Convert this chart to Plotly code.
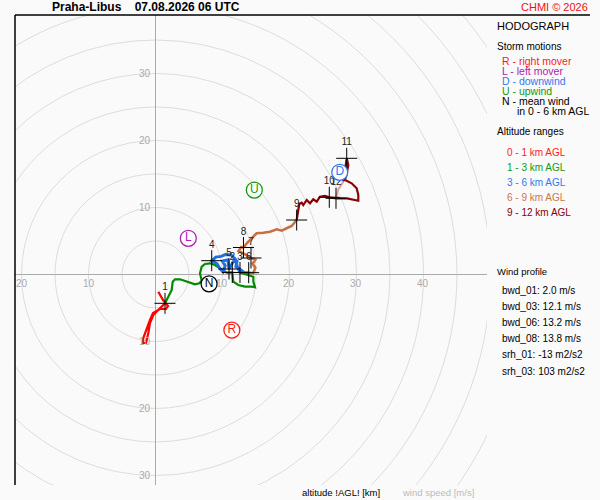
import plotly.graph_objects as go

# hodograph segments (u, v wind components in m/s)
red_u = [0.42, 1.12, 1.87, 1.57, 0.67, -0.37, -0.82, -1.31, -1.82, -1.91, -1.42, -1.07, -0.82, -0.33, 0.42, 1.12, 1.42]
red_v = [-2.57, -3.81, -4.70, -5.15, -5.15, -5.75, -6.79, -8.28, -9.48, -10.22, -10.22, -8.73, -7.24, -6.04, -5.30, -4.55, -4.30]

green_u = [1.42, 1.91, 2.42, 2.57, 2.91, 3.66, 4.40, 5.15, 5.90, 6.54, 6.90, 6.64, 6.90, 7.39, 8.13, 8.88, 9.63,
           10.63, 11.46, 11.61, 12.36, 13.36, 14.36, 14.85, 14.60, 14.60, 12.61]
green_v = [-4.30, -3.31, -2.31, -1.07, -0.72, -0.72, -0.93, -1.22, -1.46, -1.31, -0.93, 0.18, 1.16, 1.57, 1.67, 1.42, 0.93,
           0.27, 0.30, -1.07, -1.57, -1.82, -1.82, -1.91, -1.07, -0.33, 0.30]

blue_u = [12.61, 12.2, 11.9, 11.3, 10.5, 9.8, 9.0, 8.39, 9.2, 9.6, 10.1, 10.4, 10.0, 10.8, 10.97, 11.6, 12.2, 12.0,
          12.6, 13.2, 13.91]
blue_v = [0.30, 1.2, 2.3, 2.9, 3.0, 2.7, 2.6, 2.06, 1.6, 0.9, 0.4, 1.3, 2.0, 2.2, 0.82, 1.9, 2.1, 1.2, 0.8, 0.3, 0.27]

orange_u = [13.91, 14.6, 14.9, 14.5, 14.9, 14.25, 13.6, 13.0, 12.4, 12.8, 13.13, 13.66, 14.36, 15.10, 16.09, 17.09,
            18.09, 18.84, 19.58, 20.33, 21.07]
orange_v = [0.27, 0.2, 1.0, 1.6, 2.2, 2.46, 2.9, 3.2, 3.5, 4.1, 4.03, 4.70, 5.40, 6.15, 6.24, 6.39, 6.75, 6.54, 6.90,
            7.24, 8.13]

darkred_u = [21.07, 21.46, 21.82, 22.06, 22.57, 23.06, 23.55, 24.06, 24.55, 25.30, 25.94, 27.09, 28.58, 29.52, 30.27,
             30.27, 30.03, 29.28, 28.28, 28.54, 28.78, 28.54, 28.28, 28.03]
darkred_v = [8.13, 10.52, 10.72, 10.37, 11.12, 10.63, 11.22, 10.87, 11.61, 11.72, 11.52, 11.37, 11.37, 11.12, 11.01,
             11.87, 12.87, 13.61, 14.10, 15.10, 16.34, 17.34, 15.60, 13.85]
# last leg 11 -> 12 drawn lighter
pink_u = [28.03, 27.24, 26.94]
pink_v = [13.85, 12.61, 11.37]

# altitude markers
hgt_km = [1, 2, 3, 4, 5, 6, 7, 8, 9, 10, 11, 12]
hgt_u = [1.42, 11.46, 12.61, 8.39, 10.97, 13.91, 14.25, 13.13, 21.07, 25.94, 28.54, 26.94]
hgt_v = [-4.30, 0.30, 0.30, 2.06, 0.82, 0.27, 2.46, 4.03, 8.13, 11.52, 17.34, 11.37]

# storm motions
storm_labels = ["R", "L", "D", "U", "N"]
storm_u = [11.4, 4.9, 27.5, 14.75, 8.0]
storm_v = [-8.3, 5.4, 15.25, 12.6, -1.4]
storm_colors = ["#ff1a1a", "#b020b0", "#3377ee", "#119911", "#000000"]

ring_speeds = [5, 10, 15, 20, 25, 30, 35, 40, 45, 50, 55, 60, 65]
x_ticks = [-20, -10, 10, 20, 30, 40]
y_ticks = [-30, -20, -10, 10, 20, 30]

legend_motion = ["R - right mover", "L - left mover", "D - downwind", "U - upwind", "N - mean wind"]
legend_ranges = ["0 - 1 km AGL", "1 - 3 km AGL", "3 - 6 km AGL", "6 - 9 km AGL", "9 - 12 km AGL"]
range_colors = ["#ff1a1a", "#119911", "#3377ee", "#cc7744", "#880000"]
profile_lines = ["bwd_01: 2.0 m/s", "bwd_03: 12.1 m/s", "bwd_06: 13.2 m/s", "bwd_08: 13.8 m/s",
                 "srh_01: -13 m2/s2", "srh_03: 103 m2/s2"]

FONT = "Liberation Sans, Arial, sans-serif"
W, H = 600, 500
L, R, T, B = 15, 113, 15, 15


def py(pix):
    # pixel row from top -> paper y
    return (H - B - pix) / (H - T - B)


def px(pix):
    return (pix - L) / (W - L - R)


fig = go.Figure()

seg_colors = ["#ff0000", "#008a00", "#1f6fe0", "#c87040", "#8b0000"]
seg_widths = [2.2, 2.2, 3, 2.6, 2.2]
for (u, v), c, w in zip([(red_u, red_v), (green_u, green_v), (blue_u, blue_v), (orange_u, orange_v),
                         (darkred_u, darkred_v)], seg_colors, seg_widths):
    fig.add_trace(go.Scatter(x=u, y=v, mode="lines", line=dict(color=c, width=w), hoverinfo="skip"))
fig.add_trace(go.Scatter(x=pink_u, y=pink_v, mode="lines", line=dict(color="#e0a8a8", width=2.2), hoverinfo="skip"))

fig.add_trace(go.Scatter(
    x=hgt_u, y=hgt_v, mode="markers+text", text=[str(h) for h in hgt_km], textposition="top center",
    textfont=dict(family=FONT, size=10, color="#222"),
    marker=dict(symbol="cross-thin", size=15, line=dict(color="black", width=1)),
    hoverinfo="skip"))

fig.add_trace(go.Scatter(
    x=storm_u, y=storm_v, mode="markers+text", text=storm_labels, textposition="middle center",
    textfont=dict(family=FONT, size=12, color=storm_colors),
    marker=dict(symbol="circle", size=16, color="white", line=dict(color=storm_colors, width=1.3)),
    hoverinfo="skip"))

shapes = []
for r in ring_speeds:
    shapes.append(dict(type="circle", xref="x", yref="y", x0=-r, x1=r, y0=-r, y1=r,
                       line=dict(color="#dddddd", width=1), layer="below"))
# frame lines
shapes.append(dict(type="line", xref="paper", yref="paper", x0=0, x1=px(590), y0=1, y1=1,
                   line=dict(color="black", width=1.5)))
shapes.append(dict(type="line", xref="paper", yref="paper", x0=0, x1=0, y0=0, y1=1,
                   line=dict(color="black", width=1.5)))

ann = []
for t in x_ticks:
    ann.append(dict(x=t, y=0, xref="x", yref="y", text=str(abs(t)), showarrow=False, yshift=-9,
                    font=dict(family=FONT, size=10, color="#aaaaaa")))
for t in y_ticks:
    ann.append(dict(x=0, y=t, xref="x", yref="y", text=str(abs(t)), showarrow=False, xanchor="right", xshift=-2,
                    font=dict(family=FONT, size=10, color="#aaaaaa")))


def txt(x, y, s, color="black", size=10, bold=False, anchor="left"):
    ann.append(dict(x=px(x), y=py(y), xref="paper", yref="paper", text="<b>%s</b>" % s if bold else s,
                    showarrow=False, xanchor=anchor, yanchor="middle",
                    font=dict(family=FONT, size=size, color=color)))


txt(50, 7, "Praha-Libus\u00a0\u00a0\u00a0\u00a007.08.2026 06 UTC", size=12, bold=True)
txt(590, 7, "CHMI © 2026", color="#ee1111", size=11, anchor="right")
txt(495, 26, "HODOGRAPH", size=11)
txt(495, 46, "Storm motions", size=10)
for i, s in enumerate(legend_motion):
    txt(500, 61 + 10 * i, s, color=storm_colors[i], size=10.5)
txt(515, 111, "in 0 - 6 km AGL", size=10.5)
txt(495, 131, "Altitude ranges", size=10)
for i, s in enumerate(legend_ranges):
    txt(505, 152 + 15 * i, s, color=range_colors[i], size=10)
txt(495, 271, "Wind profile", size=9.5)
for i, s in enumerate(profile_lines):
    txt(500, 290 + 16 * i + (1 if i > 3 else 0), s, size=10)
txt(300, 492, "altitude !AGL! [km]", size=9.5)
txt(400, 492, "wind speed [m/s]", color="#bbbbbb", size=9.5)

fig.update_layout(
    width=W, height=H,
    margin=dict(l=L, r=R, t=T, b=B),
    paper_bgcolor="#fafafa",
    plot_bgcolor="#fafafa",
    showlegend=False,
    shapes=shapes,
    annotations=ann,
    xaxis=dict(range=[-20.97, 49.48], showgrid=False, showticklabels=False, ticks="",
               zeroline=True, zerolinecolor="#aaaaaa", zerolinewidth=1, fixedrange=True),
    yaxis=dict(range=[-31.42, 38.73], showgrid=False, showticklabels=False, ticks="",
               zeroline=True, zerolinecolor="#aaaaaa", zerolinewidth=1, fixedrange=True),
)

# drop the default page margin so the figure sits at the window's corner
fig.write_html("out.html", config={"displayModeBar": False},
               post_script="document.body.style.margin='0';document.body.style.overflow='hidden';")
